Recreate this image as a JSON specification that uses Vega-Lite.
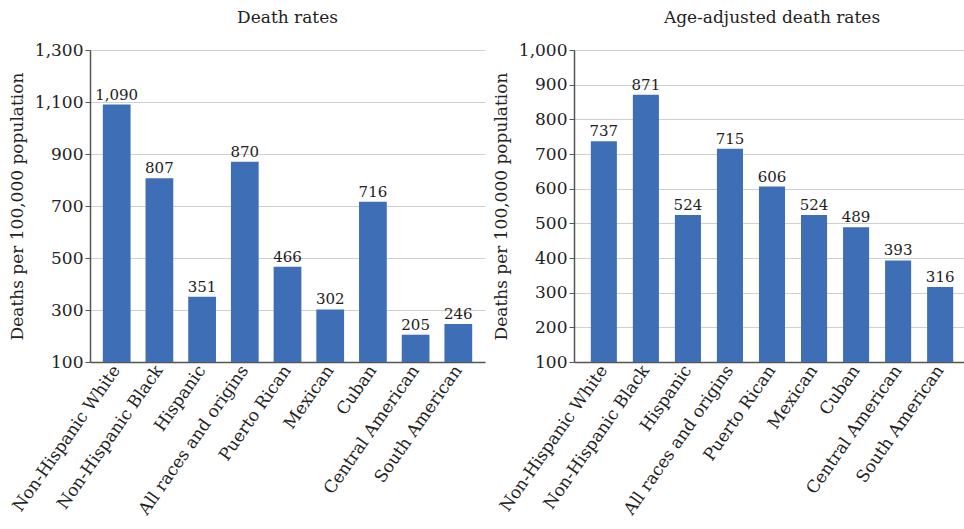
{
  "$schema": "https://vega.github.io/schema/vega-lite/v6.json",
  "background": "white",
  "padding": {"left": 8, "top": 9, "right": 0, "bottom": 0},
  "spacing": 7,
  "datasets": {
    "crude": [
      {"group": "Non-Hispanic White", "rate": 1090},
      {"group": "Non-Hispanic Black", "rate": 807},
      {"group": "Hispanic", "rate": 351},
      {"group": "All races and origins", "rate": 870},
      {"group": "Puerto Rican", "rate": 466},
      {"group": "Mexican", "rate": 302},
      {"group": "Cuban", "rate": 716},
      {"group": "Central American", "rate": 205},
      {"group": "South American", "rate": 246}
    ],
    "adjusted": [
      {"group": "Non-Hispanic White", "adjusted_rate": 737},
      {"group": "Non-Hispanic Black", "adjusted_rate": 871},
      {"group": "Hispanic", "adjusted_rate": 524},
      {"group": "All races and origins", "adjusted_rate": 715},
      {"group": "Puerto Rican", "adjusted_rate": 606},
      {"group": "Mexican", "adjusted_rate": 524},
      {"group": "Cuban", "adjusted_rate": 489},
      {"group": "Central American", "adjusted_rate": 393},
      {"group": "South American", "adjusted_rate": 316}
    ]
  },
  "config": {
    "font": "DejaVu Serif",
    "view": {"stroke": null},
    "title": {"font": "DejaVu Serif", "fontSize": 17, "fontWeight": "normal", "color": "#222", "offset": 14},
    "axis": {
      "labelFont": "DejaVu Serif",
      "titleFont": "DejaVu Serif",
      "labelFontSize": 17,
      "titleFontSize": 17,
      "titleFontWeight": "normal",
      "labelColor": "#222",
      "titleColor": "#222",
      "domainColor": "#555",
      "domainWidth": 1.5,
      "tickColor": "#555",
      "gridColor": "#d0d0d0",
      "gridWidth": 1.2,
      "labelOverlap": false
    }
  },
  "hconcat": [
    {
      "data": {"name": "crude"},
      "title": "Death rates",
      "width": 395,
      "height": 312,
      "encoding": {
        "x": {
          "field": "group", "type": "nominal", "sort": null,
          "scale": {"paddingInner": 0.35, "paddingOuter": 0.3},
          "axis": {"title": null, "labelAngle": -55, "ticks": false, "labelPadding": 5, "grid": false}
        },
        "y": {
          "field": "rate", "type": "quantitative",
          "scale": {"domain": [100, 1300], "zero": false, "nice": false},
          "axis": {"title": "Deaths per 100,000 population", "values": [100, 300, 500, 700, 900, 1100, 1300], "format": ",d", "tickSize": 5, "titlePadding": 8}
        }
      },
      "layer": [
        {
          "mark": {"type": "bar", "color": "#3e6fb6"},
          "encoding": {"y2": {"datum": 100}}
        },
        {
          "mark": {"type": "text", "dy": -10, "fontSize": 15, "color": "#222"},
          "encoding": {"text": {"field": "rate", "type": "quantitative", "format": ",d"}}
        }
      ]
    },
    {
      "data": {"name": "adjusted"},
      "title": "Age-adjusted death rates",
      "width": 396,
      "height": 312,
      "encoding": {
        "x": {
          "field": "group", "type": "nominal", "sort": null,
          "scale": {"paddingInner": 0.38, "paddingOuter": 0.4},
          "axis": {"title": null, "labelAngle": -55, "ticks": false, "labelPadding": 5, "grid": false}
        },
        "y": {
          "field": "adjusted_rate", "type": "quantitative",
          "scale": {"domain": [100, 1000], "zero": false, "nice": false},
          "axis": {"title": "Deaths per 100,000 population", "values": [100, 200, 300, 400, 500, 600, 700, 800, 900, 1000], "format": ",d", "tickSize": 5, "titlePadding": 8}
        }
      },
      "layer": [
        {
          "mark": {"type": "bar", "color": "#3e6fb6"},
          "encoding": {"y2": {"datum": 100}}
        },
        {
          "mark": {"type": "text", "dy": -10, "fontSize": 15, "color": "#222"},
          "encoding": {"text": {"field": "adjusted_rate", "type": "quantitative", "format": ",d"}}
        }
      ]
    }
  ]
}
